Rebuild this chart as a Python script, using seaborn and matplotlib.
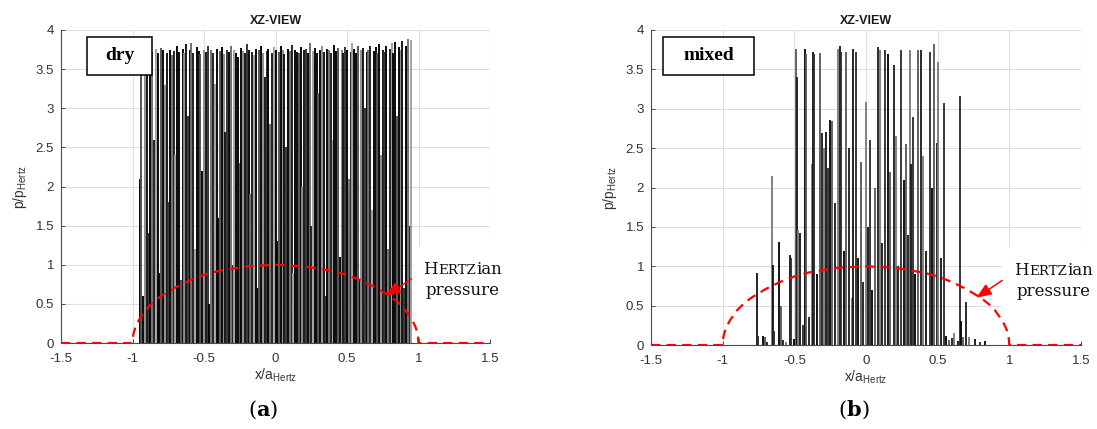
import numpy as np
import pandas as pd
import matplotlib
matplotlib.use("Agg")
import matplotlib.pyplot as plt
import seaborn as sns
from matplotlib.offsetbox import TextArea, HPacker, VPacker, AnnotationBbox
from matplotlib.patches import Rectangle

sns.set_theme(style="whitegrid")
plt.rcParams["font.family"] = ["Liberation Sans", "DejaVu Sans"]
plt.rcParams["mathtext.default"] = "regular"

# ---------------- data ----------------
hertz_x = [-1.5, -1.0, -0.995, -0.99, -0.98, -0.97, -0.95, -0.9, -0.85, -0.8, -0.7, -0.6, -0.5,
           -0.4, -0.3, -0.2, -0.1, 0.0, 0.1, 0.2, 0.3, 0.4, 0.5, 0.6, 0.7, 0.8, 0.85, 0.9,
           0.95, 0.97, 0.98, 0.99, 0.995, 1.0, 1.5]
hertz_p = [0.0, 0.0, 0.10, 0.14, 0.20, 0.24, 0.31, 0.44, 0.53, 0.60, 0.71, 0.80, 0.87,
           0.92, 0.95, 0.98, 0.99, 1.00, 0.99, 0.98, 0.95, 0.92, 0.87, 0.80, 0.71, 0.60, 0.53, 0.44,
           0.31, 0.24, 0.20, 0.14, 0.10, 0.0, 0.0]

x_dry = [-0.950, -0.938, -0.925, -0.912, -0.900, -0.888, -0.875, -0.862, -0.850, -0.838,
         -0.825, -0.812, -0.800, -0.788, -0.775, -0.762, -0.750, -0.738, -0.725, -0.712,
         -0.700, -0.688, -0.675, -0.662, -0.650, -0.638, -0.625, -0.612, -0.600, -0.588,
         -0.575, -0.562, -0.550, -0.538, -0.525, -0.512, -0.500, -0.488, -0.475, -0.462,
         -0.450, -0.438, -0.425, -0.412, -0.400, -0.388, -0.375, -0.362, -0.350, -0.338,
         -0.325, -0.312, -0.300, -0.288, -0.275, -0.262, -0.250, -0.238, -0.225, -0.212,
         -0.200, -0.188, -0.175, -0.162, -0.150, -0.138, -0.125, -0.112, -0.100, -0.088,
         -0.075, -0.062, -0.050, -0.038, -0.025, -0.012, 0.000, 0.012, 0.025, 0.038,
         0.050, 0.062, 0.075, 0.088, 0.100, 0.112, 0.125, 0.138, 0.150, 0.162,
         0.175, 0.188, 0.200, 0.212, 0.225, 0.238, 0.250, 0.262, 0.275, 0.288,
         0.300, 0.312, 0.325, 0.338, 0.350, 0.362, 0.375, 0.388, 0.400, 0.412,
         0.425, 0.438, 0.450, 0.462, 0.475, 0.488, 0.500, 0.512, 0.525, 0.538,
         0.550, 0.562, 0.575, 0.588, 0.600, 0.612, 0.625, 0.638, 0.650, 0.662,
         0.675, 0.688, 0.700, 0.712, 0.725, 0.738, 0.750, 0.762, 0.775, 0.788,
         0.800, 0.812, 0.825, 0.838, 0.850, 0.862, 0.875, 0.888, 0.900, 0.912,
         0.925, 0.938, 0.950]
p_dry = [2.10, 3.78, 0.60, 3.82, 3.75, 1.40, 3.80, 3.72, 2.60, 3.76,
         3.70, 0.90, 3.77, 3.74, 3.30, 3.71, 1.80, 3.75, 3.68, 3.73,
         2.40, 3.79, 3.72, 0.80, 3.76, 3.70, 3.82, 2.90, 3.74, 3.84,
         3.71, 1.20, 3.78, 3.73, 3.69, 2.20, 3.75, 3.72, 3.80, 0.50,
         3.74, 3.70, 3.31, 3.76, 1.60, 3.73, 3.78, 3.69, 2.70, 3.75,
         3.72, 3.80, 1.00, 3.74, 3.71, 3.66, 2.30, 3.77, 3.73, 3.70,
         3.82, 3.75, 1.90, 3.72, 3.68, 3.76, 0.70, 3.74, 3.79, 3.71,
         3.40, 3.73, 3.76, 2.80, 3.70, 3.78, 3.75, 1.30, 3.72, 3.80,
         3.74, 3.69, 2.50, 3.76, 3.73, 3.81, 0.90, 3.75, 3.72, 3.70,
         3.78, 2.00, 3.74, 3.76, 3.71, 3.83, 1.50, 3.73, 3.77, 3.70,
         3.20, 3.75, 3.79, 3.72, 0.60, 3.76, 3.74, 3.70, 2.60, 3.81,
         3.73, 3.77, 1.10, 3.75, 3.70, 3.78, 3.74, 2.10, 3.72, 3.84,
         3.76, 3.71, 3.79, 0.80, 3.74, 3.77, 3.00, 3.72, 3.75, 3.80,
         1.70, 3.73, 3.78, 3.70, 3.82, 2.40, 3.75, 3.72, 3.79, 1.20,
         3.76, 3.83, 3.71, 3.85, 2.90, 3.78, 3.74, 3.86, 0.70, 3.80,
         3.88, 1.50, 3.87]

x_mixed = [-0.763, -0.755, -0.720, -0.708, -0.690, -0.654, -0.647, -0.640, -0.605, -0.596,
           -0.577, -0.560, -0.530, -0.520, -0.505, -0.487, -0.480, -0.472, -0.462, -0.440,
           -0.426, -0.420, -0.400, -0.380, -0.368, -0.360, -0.345, -0.320, -0.304, -0.290,
           -0.280, -0.268, -0.251, -0.236, -0.215, -0.195, -0.182, -0.175, -0.155, -0.140,
           -0.120, -0.100, -0.088, -0.073, -0.055, -0.037, -0.020, 0.000, 0.015, 0.030,
           0.045, 0.060, 0.085, 0.097, 0.115, 0.134, 0.150, 0.170, 0.195, 0.207,
           0.225, 0.243, 0.262, 0.280, 0.292, 0.304, 0.316, 0.328, 0.345, 0.365,
           0.382, 0.400, 0.420, 0.445, 0.460, 0.474, 0.494, 0.500, 0.520, 0.543,
           0.555, 0.580, 0.600, 0.616, 0.640, 0.657, 0.665, 0.680, 0.698, 0.720,
           0.760, 0.795, 0.830]
p_mixed = [0.91, 0.12, 0.11, 0.10, 0.04, 2.14, 1.02, 0.18, 1.31, 0.50,
           0.06, 0.04, 1.14, 1.10, 0.08, 3.76, 3.40, 1.46, 1.42, 0.25,
           3.76, 3.70, 0.35, 2.30, 3.72, 3.70, 0.90, 3.71, 2.69, 2.50,
           2.70, 2.25, 2.86, 2.85, 1.80, 3.76, 3.80, 3.72, 1.20, 3.72,
           2.50, 0.60, 3.76, 3.72, 1.10, 2.33, 0.80, 3.09, 1.50, 2.60,
           0.70, 2.00, 3.78, 3.75, 1.30, 3.75, 3.70, 2.20, 3.56, 2.65,
           1.00, 3.74, 2.10, 2.55, 1.40, 3.75, 2.30, 2.90, 0.90, 3.75,
           3.74, 2.40, 1.20, 3.72, 2.00, 3.82, 2.57, 3.60, 1.10, 3.07,
           0.12, 0.06, 0.09, 0.15, 0.05, 3.16, 0.30, 0.10, 0.55, 0.10,
           0.08, 0.04, 0.05]

panel_labels = ["dry", "mixed"]
panel_tags = ["a", "b"]
x_ticks = [-1.5, -1, -0.5, 0, 0.5, 1, 1.5]
x_ticklabels = ["-1.5", "-1", "-0.5", "0", "0.5", "1", "1.5"]
y_ticks = [0, 0.5, 1, 1.5, 2, 2.5, 3, 3.5, 4]
y_ticklabels = ["0", "0.5", "1", "1.5", "2", "2.5", "3", "3.5", "4"]

# ---------------- figure ----------------
W, H = 1097, 429
fig = plt.figure(figsize=(W / 100, H / 100), dpi=100)
fig.patch.set_facecolor("white")


def fx(px):
    return px / W


def fy(py):
    return 1 - py / H


axes_px = [(61, 490, 30, 343), (651, 1081, 30, 345)]
label_boxes = [(0.0606, 0.856, 0.1514, 0.122), (0.028, 0.857, 0.2115, 0.121)]
white_boxes = [(0.96, 0.064, 0.62, 1.17), (0.95, 0.06, 0.68, 1.18)]
tag_pos = [(263, 410), (854, 410)]

shades_dry = ["#000000", "#505050", "#000000", "#8a8a8a", "#111111", "#2e2e2e", "#000000", "#6a6a6a",
              "#1a1a1a", "#a0a0a0", "#000000"]
shades_mix = ["#111111", "#2a2a2a", "#000000", "#555555", "#1a1a1a", "#777777"]

datasets = [(x_dry, p_dry, shades_dry, 1.35), (x_mixed, p_mixed, shades_mix, 1.3)]

for i, (l, r, t, b) in enumerate(axes_px):
    ax = fig.add_axes([fx(l), fy(b), fx(r - l), fy(t) - fy(b)])
    ax.set_facecolor("white")
    xs, ps, shades, lw = datasets[i]
    assert len(xs) == len(ps)
    cols = [shades[k % len(shades)] for k in range(len(xs))]
    ax.vlines(xs, 0, ps, colors=cols, linewidth=lw, zorder=2)

    hdf = pd.DataFrame({"x": hertz_x, "p": hertz_p})
    sns.lineplot(data=hdf, x="x", y="p", ax=ax, color="#ff0000", linewidth=1.6,
                 linestyle=(0, (4.2, 2.8)), estimator=None, sort=False, zorder=5)

    ax.set_xlim(-1.5, 1.5)
    ax.set_ylim(0, 4)
    ax.set_xticks(x_ticks)
    ax.set_xticklabels(x_ticklabels)
    ax.set_yticks(y_ticks)
    ax.set_yticklabels(y_ticklabels)
    ax.grid(True, color="#dedede", linewidth=0.8, zorder=0)
    ax.set_axisbelow(True)
    for s in ["top", "right"]:
        ax.spines[s].set_visible(False)
    for s in ["left", "bottom"]:
        ax.spines[s].set_visible(True)
        ax.spines[s].set_color("#4a4a4a")
        ax.spines[s].set_linewidth(0.8)
    ax.tick_params(axis="both", direction="in", length=3, width=0.7, color="#4a4a4a",
                   labelcolor="#333333", labelsize=9.5, left=True, bottom=True)
    ax.tick_params(axis="x", pad=7)
    ax.tick_params(axis="y", pad=5)

    ax.set_title("XZ-VIEW", fontsize=9, fontweight="bold", color="#1a1a1a", pad=4)
    ax.set_xlabel(r"x/a$_{Hertz}$", fontsize=10, color="#333333", labelpad=1)
    ax.set_ylabel(r"p/p$_{Hertz}$", fontsize=10, color="#333333", labelpad=5)

    # label box (dry / mixed)
    bx, by, bw, bh = label_boxes[i]
    ax.add_patch(Rectangle((bx, by), bw, bh, transform=ax.transAxes, facecolor="white",
                           edgecolor="black", linewidth=1.1, zorder=6, clip_on=False))
    ax.text(bx + bw / 2, by + bh / 2, panel_labels[i], transform=ax.transAxes,
            ha="center", va="center", fontsize=14, fontweight="bold",
            family=["Liberation Serif", "DejaVu Serif"], color="black", zorder=7)

    # white area behind the annotation
    wx, wy, ww, wh = white_boxes[i]
    ax.add_patch(Rectangle((wx, wy), ww, wh, facecolor="white", edgecolor="none",
                           zorder=3, clip_on=False))

    # Hertzian pressure annotation
    serif = ["DejaVu Serif"]
    t1 = TextArea("H", textprops=dict(fontsize=12, family=serif, color="#111111"))
    t2 = TextArea("ERTZ", textprops=dict(fontsize=9.6, family=serif, color="#111111"))
    t3 = TextArea("ian", textprops=dict(fontsize=12, family=serif, color="#111111"))
    row1 = HPacker(children=[t1, t2, t3], align="baseline", pad=0, sep=0.5)
    row2 = TextArea("pressure", textprops=dict(fontsize=12, family=serif, color="#111111"))
    pack = VPacker(children=[row1, row2], align="center", pad=0, sep=3)
    ab = AnnotationBbox(pack, (1.31, 0.81), xycoords="data", frameon=False,
                        box_alignment=(0.5, 0.5), annotation_clip=False, zorder=8)
    ax.add_artist(ab)
    ax.annotate("", xy=(0.77, 0.60), xytext=(0.95, 0.82), xycoords="data",
                arrowprops=dict(arrowstyle="-|>,head_length=0.7,head_width=0.28",
                                color="#ff0000", lw=1.1, shrinkA=0, shrinkB=0,
                                mutation_scale=13),
                zorder=8, annotation_clip=False)

    # (a) / (b) tag
    px, py = tag_pos[i]
    s1 = TextArea("(", textprops=dict(fontsize=15, family=["DejaVu Serif"], color="black"))
    s2 = TextArea(panel_tags[i], textprops=dict(fontsize=15, family=["DejaVu Serif"],
                                                fontweight="bold", color="black"))
    s3 = TextArea(")", textprops=dict(fontsize=15, family=["DejaVu Serif"], color="black"))
    tag = HPacker(children=[s1, s2, s3], align="baseline", pad=0, sep=0)
    tb = AnnotationBbox(tag, (fx(px), fy(py)), xycoords="figure fraction", frameon=False,
                        box_alignment=(0.5, 0.5), annotation_clip=False)
    ax.add_artist(tb)

fig.savefig("out.png", dpi=100, facecolor="white")
